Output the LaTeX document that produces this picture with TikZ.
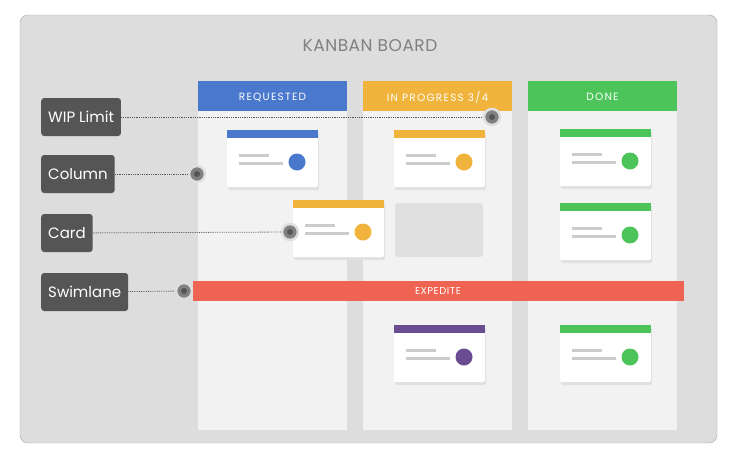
\documentclass[tikz,border=0pt]{standalone}
\usepackage{fontspec}
\setmainfont{Poppins}
\usetikzlibrary{positioning}
\definecolor{boardgray}{HTML}{DDDDDD}
\definecolor{colgray}{HTML}{F2F2F2}
\definecolor{reqblue}{HTML}{4A78CC}
\definecolor{progorange}{HTML}{F0B43C}
\definecolor{donegreen}{HTML}{4CC45A}
\definecolor{expred}{HTML}{EE6352}
\definecolor{labgray}{HTML}{555555}
\definecolor{cardpurple}{HTML}{6A4C93}
\begin{document}
\begin{tikzpicture}[x=1pt,y=-1pt,
  LabelStyle/.style={fill=labgray, rounded corners=3pt, text=white, font=\fontsize{15}{15}\selectfont, anchor=west, inner xsep=7pt, minimum height=38pt},
  HeadStyle/.style={text=white, font=\addfontfeature{LetterSpace=12}\fontsize{10.5}{11}\selectfont},
  PinStyle/.style={circle, fill=gray, draw=white!75!gray, line width=2.5pt, minimum size=16pt, inner sep=0pt}]
\useasboundingbox (0,0) rectangle (735,461);
\fill[boardgray, draw=gray!70, rounded corners=8pt] (20,15) rectangle (717,443);
\node (Title) at (370,46) {\color{gray}\addfontfeature{LetterSpace=3}\fontsize{17}{17}\selectfont KANBAN BOARD};

% columns
\foreach \x/\c/\t in {198/reqblue/REQUESTED, 363/progorange/{IN PROGRESS 3/4}, 528/donegreen/DONE}{
  \fill[colgray] (\x,111) rectangle ++(149,319);
  \fill[\c] (\x,81) rectangle ++(149,30);
  \node[HeadStyle] at (\x+74.5,97) {\t};
}

% cards
\newcommand{\kcard}[3]{%
  \fill[black!12, rounded corners=2pt] (#1+1,#2+2) rectangle ++(91,58);
  \fill[white, rounded corners=2pt] (#1,#2) rectangle ++(91,57);
  \fill[#3] (#1,#2) rectangle ++(91,8);
  \fill[gray!40] (#1+12,#2+24) rectangle ++(30,3);
  \fill[gray!40] (#1+12,#2+32) rectangle ++(44,3);
  \fill[#3] (#1+70,#2+32) circle (8.5);
}
\kcard{227}{130}{reqblue}
\kcard{394}{130}{progorange}
\fill[black!12, rounded corners=3pt] (395,203) rectangle (483,257);
\kcard{293}{200}{progorange}
\kcard{394}{325}{cardpurple}
\kcard{560}{129}{donegreen}
\kcard{560}{203}{donegreen}
\kcard{560}{325}{donegreen}

% swimlane
\fill[expred] (193,281) rectangle (684,301);
\node[text=white, font=\addfontfeature{LetterSpace=5}\fontsize{10}{10}\selectfont] (Expedite) at (438,291) {EXPEDITE};

% labels
\node[LabelStyle] (WIP) at (41,117) {WIP Limit};
\node[LabelStyle] (Column) at (41,174) {Column};
\node[LabelStyle] (Card) at (41,233) {Card};
\node[LabelStyle] (Swimlane) at (41,292) {Swimlane};
\node[PinStyle] (PinWIP) at (492,117) {};
\node[PinStyle] (PinColumn) at (197,174) {};
\node[PinStyle] (PinCard) at (290,232) {};
\node[PinStyle] (PinSwim) at (184,291) {};
\draw[densely dotted, thick, labgray] (WIP) -- (PinWIP);
\draw[densely dotted, thick, labgray] (Column) -- (PinColumn);
\draw[densely dotted, thick, labgray] (Card) -- (PinCard);
\draw[densely dotted, thick, labgray] (Swimlane) -- (PinSwim);
\fill[labgray] (PinWIP) circle (3) (PinColumn) circle (3) (PinCard) circle (3) (PinSwim) circle (3);
\end{tikzpicture}
\end{document}
